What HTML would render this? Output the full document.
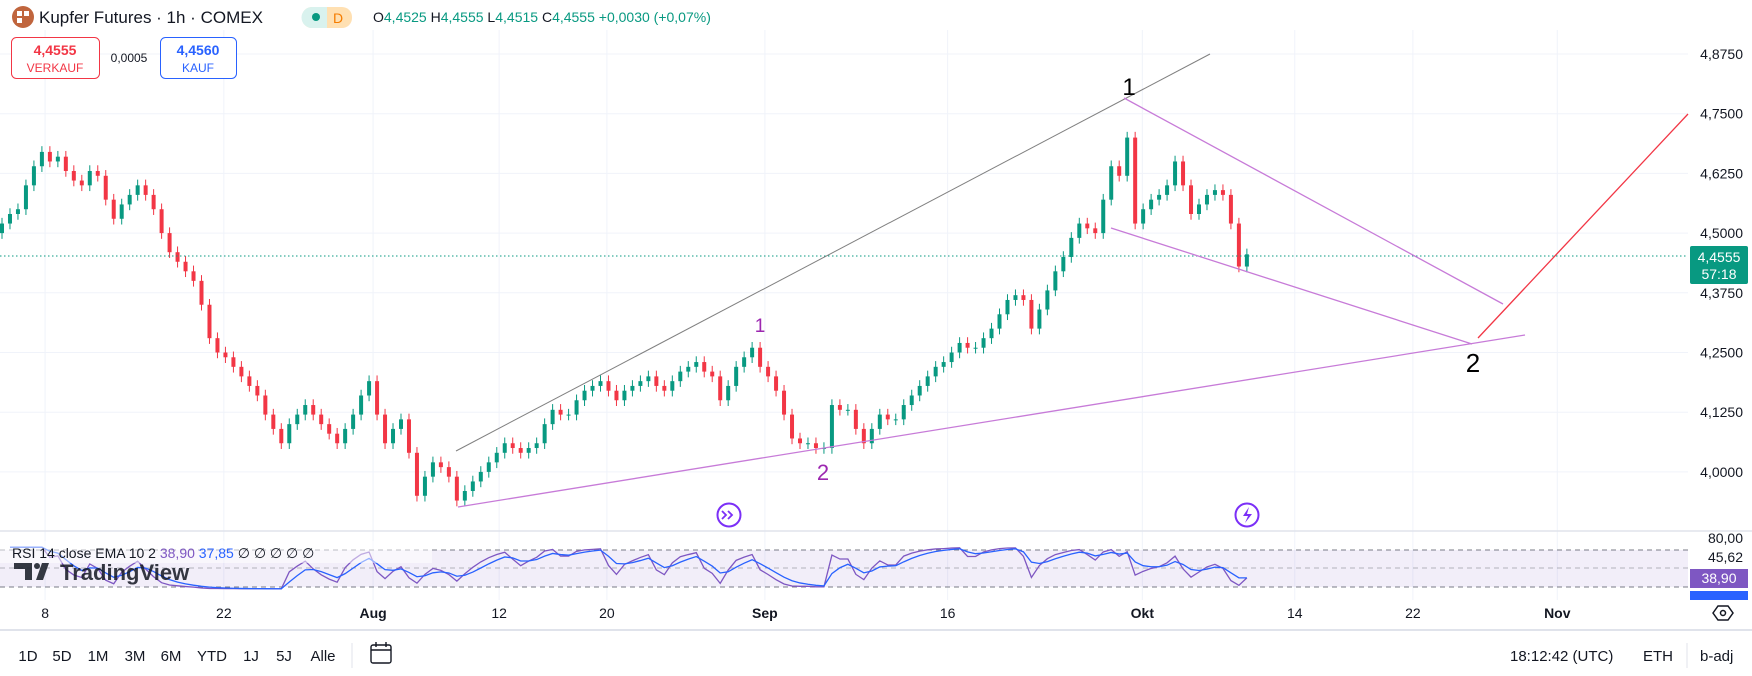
<!DOCTYPE html>
<html><head><meta charset="utf-8">
<style>
html,body{margin:0;padding:0;background:#fff;width:1752px;height:676px;overflow:hidden;font-family:"Liberation Sans","DejaVu Sans",sans-serif;}
svg{position:absolute;left:0;top:0}
text{font-family:"Liberation Sans","DejaVu Sans",sans-serif}
</style></head>
<body>
<svg id="chart" width="1752" height="676" viewBox="0 0 1752 676">
<g id="grid"></g>
<g id="candles"></g>
<line x1="0" y1="256" x2="1688" y2="256" stroke="#089981" stroke-width="1" stroke-dasharray="1.5 2.5"/>
<g>
<line x1="456" y1="451" x2="1210" y2="54" stroke="#808080" stroke-width="1"/>
<line x1="458" y1="507" x2="1525" y2="335" stroke="#c77bd8" stroke-width="1.3"/>
<line x1="1124" y1="98" x2="1503" y2="304" stroke="#c77bd8" stroke-width="1.3"/>
<line x1="1111" y1="228" x2="1472" y2="344" stroke="#c77bd8" stroke-width="1.3"/>
<line x1="1478" y1="338" x2="1688" y2="114" stroke="#f23645" stroke-width="1.3"/>
<text x="1129" y="95" font-size="24" fill="#000" text-anchor="middle">1</text>
<text x="1473" y="372" font-size="26" fill="#000" text-anchor="middle">2</text>
<text x="760" y="332" font-size="19" fill="#9c27b0" text-anchor="middle">1</text>
<text x="823" y="480" font-size="22" fill="#9c27b0" text-anchor="middle">2</text>
</g>
<g><circle cx="729" cy="515" r="11.5" fill="#fff" stroke="#7b2ff7" stroke-width="2"/><path d="M722 511 l4 4 -4 4 M728 511 l4 4 -4 4" stroke="#7b2ff7" stroke-width="1.8" fill="none"/></g>
<g><circle cx="1247" cy="515" r="11.5" fill="#fff" stroke="#7b2ff7" stroke-width="2"/><path d="M1249 507 l-6 9 h5 l-3 7 7-9 h-5z" fill="#7b2ff7"/></g>

<line x1="0" y1="531" x2="1752" y2="531" stroke="#e0e3eb" stroke-width="1.5"/>
<rect x="0" y="550" width="1688" height="37" fill="#7e57c2" fill-opacity="0.1"/>
<line x1="0" y1="550" x2="1688" y2="550" stroke="#787b86" stroke-dasharray="5 4"/>
<line x1="0" y1="568" x2="1688" y2="568" stroke="#9598a1" stroke-dasharray="5 4" stroke-opacity="0.7"/>
<line x1="0" y1="587" x2="1688" y2="587" stroke="#787b86" stroke-dasharray="5 4"/>
<g id="rsi"></g>
<rect x="0" y="541" width="432" height="22" fill="#fff" fill-opacity="0.5"/>
<text x="12" y="558" font-size="14" fill="#131722">RSI 14 close EMA 10 2 <tspan fill="#7e57c2">38,90</tspan> <tspan fill="#2962ff">37,85</tspan>  ∅  ∅  ∅  ∅  ∅</text>
<g>
<path d="M14 563 h18 v17 h-7 v-11 h-11z" fill="#131722" opacity="0.85"/><circle cx="37" cy="566" r="3" fill="#131722" opacity="0.85"/><path d="M36 580 l6-17 h7 l-6 17z" fill="#131722" opacity="0.85"/>
<text x="60" y="580" font-size="22" font-weight="bold" fill="#131722" opacity="0.85">TradingView</text></g>

<g id="paxis"></g>
<g><rect x="1690" y="246" width="58" height="38" rx="2" fill="#089981"/>
<text x="1719" y="262" font-size="14" fill="#fff" text-anchor="middle">4,4555</text><text x="1719" y="279" font-size="14" fill="#fff" text-anchor="middle">57:18</text></g>
<text x="1743" y="543" font-size="14" fill="#131722" text-anchor="end">80,00</text>
<text x="1743" y="562" font-size="14" fill="#131722" text-anchor="end">45,62</text>
<rect x="1690" y="569" width="58" height="19" fill="#7e57c2"/>
<text x="1719" y="583" font-size="14" fill="#fff" text-anchor="middle">38,90</text>
<rect x="1690" y="591" width="58" height="9" fill="#2962ff"/>

<g id="taxis"></g>
<g><path d="M1713 613 l5-7 h10 l5 7 -5 7 h-10z" fill="none" stroke="#131722" stroke-width="1.5"/><circle cx="1723" cy="613" r="2.5" fill="none" stroke="#131722" stroke-width="1.5"/></g>
<line x1="0" y1="630" x2="1752" y2="630" stroke="#e0e3eb" stroke-width="2"/>
<g font-size="15" fill="#131722" text-anchor="middle">
<text x="28" y="661">1D</text>
<text x="62" y="661">5D</text>
<text x="98" y="661">1M</text>
<text x="135" y="661">3M</text>
<text x="171" y="661">6M</text>
<text x="212" y="661">YTD</text>
<text x="251" y="661">1J</text>
<text x="284" y="661">5J</text>
<text x="323" y="661">Alle</text>
</g>
<line x1="352" y1="643" x2="352" y2="668" stroke="#e0e3eb"/>
<g><rect x="371" y="645" width="20" height="18" rx="2" fill="none" stroke="#131722" stroke-width="1.4"/><line x1="371" y1="650" x2="391" y2="650" stroke="#131722" stroke-width="1.4"/><line x1="376" y1="642" x2="376" y2="647" stroke="#131722" stroke-width="1.4"/><line x1="386" y1="642" x2="386" y2="647" stroke="#131722" stroke-width="1.4"/></g>
<text x="1510" y="661" font-size="15" fill="#131722">18:12:42 (UTC)</text>
<text x="1643" y="661" font-size="15" fill="#131722">ETH</text>
<line x1="1687" y1="643" x2="1687" y2="668" stroke="#e0e3eb"/>
<text x="1700" y="661" font-size="15" fill="#131722">b-adj</text>

<g>
<circle cx="23" cy="17" r="11" fill="#c0653d"/>
<rect x="17" y="11" width="5" height="5" fill="#fff"/><rect x="24" y="11" width="5" height="5" fill="#fff"/><rect x="17" y="18" width="5" height="5" fill="#fff"/>
<text x="39" y="23" font-size="17" fill="#131722">Kupfer Futures · 1h · COMEX</text>
<rect x="302" y="7" width="50" height="21" rx="10" fill="#ffe0b2"/><path d="M312 7 h15 v21 h-15 a10 10 0 0 1 0-21z" fill="#d9f2ee"/>
<circle cx="316" cy="17" r="4" fill="#089981"/><text x="338" y="23" font-size="14" fill="#f57c00" text-anchor="middle">D</text>
<text x="373" y="22" font-size="14" fill="#131722">O<tspan fill="#089981">4,4525</tspan> H<tspan fill="#089981">4,4555</tspan> L<tspan fill="#089981">4,4515</tspan> C<tspan fill="#089981">4,4555 +0,0030 (+0,07%)</tspan></text>
</g>
<g><rect x="11.5" y="37.5" width="88" height="41" rx="5" fill="#fff" stroke="#f23645"/>
<text x="55" y="55" font-size="14" font-weight="bold" fill="#f23645" text-anchor="middle">4,4555</text><text x="55" y="72" font-size="12" fill="#f23645" text-anchor="middle">VERKAUF</text></g>
<text x="129" y="62" font-size="12" fill="#131722" text-anchor="middle">0,0005</text>
<g><rect x="160.5" y="37.5" width="76" height="41" rx="5" fill="#fff" stroke="#2962ff"/>
<text x="198" y="55" font-size="14" font-weight="bold" fill="#2962ff" text-anchor="middle">4,4560</text><text x="198" y="72" font-size="12" fill="#2962ff" text-anchor="middle">KAUF</text></g>
</svg>
<script>
const closes=[4.52,4.54,4.55,4.60,4.64,4.67,4.65,4.66,4.63,4.61,4.60,4.63,4.62,4.57,4.53,4.56,4.58,4.60,4.58,4.55,
4.50,4.46,4.44,4.42,4.40,4.35,4.28,4.25,4.24,4.22,4.20,4.18,4.16,4.12,4.09,4.06,4.10,4.12,4.14,4.12,
4.10,4.08,4.06,4.09,4.12,4.16,4.19,4.12,4.06,4.09,4.11,4.04,3.95,3.99,4.02,4.01,3.99,3.94,3.96,3.98,
4.00,4.02,4.04,4.06,4.05,4.04,4.05,4.06,4.10,4.13,4.12,4.12,4.15,4.17,4.18,4.19,4.17,4.15,4.17,4.18,
4.19,4.20,4.18,4.17,4.19,4.21,4.22,4.23,4.21,4.20,4.15,4.18,4.22,4.24,4.26,4.22,4.20,4.17,4.12,4.07,
4.06,4.06,4.05,4.05,4.14,4.13,4.13,4.09,4.06,4.09,4.12,4.11,4.11,4.14,4.16,4.18,4.20,4.22,4.23,4.25,
4.27,4.26,4.26,4.28,4.30,4.33,4.36,4.37,4.36,4.30,4.34,4.38,4.42,4.45,4.49,4.52,4.51,4.50,4.57,4.64,
4.62,4.70,4.52,4.55,4.57,4.58,4.60,4.65,4.60,4.54,4.56,4.58,4.59,4.58,4.52,4.43,4.4555];
const firstOpen=4.50;
const priceTicks=[4.875,4.75,4.625,4.5,4.375,4.25,4.125,4.0];
const priceTickLabels=["4,8750","4,7500","4,6250","4,5000","4,3750","4,2500","4,1250","4,0000"];
const dateLabels=["8","22","Aug","12","20","Sep","16","Okt","14","22","Nov"];
const dateBold=[false,false,true,false,false,true,false,true,false,false,true];
const dateIdx=[5.4,27.8,46.5,62.3,75.8,95.6,118.5,142.9,162,176.8,194.9];

const NS="http://www.w3.org/2000/svg";
function el(t,a,p){const e=document.createElementNS(NS,t);for(const k in a)e.setAttribute(k,a[k]);p.appendChild(e);return e;}
const yP=p=>54+(4.875-p)*477.6;
const xI=i=>2+i*7.98;
const yR=r=>568-(r-50)*0.925;

const grid=document.getElementById('grid'),pax=document.getElementById('paxis'),tax=document.getElementById('taxis');
priceTicks.forEach((p,k)=>{
  const g=el('line',{x1:0,x2:1688,y1:yP(p),y2:yP(p),stroke:'#f0f3fa','stroke-width':1},grid);
  
  
  const t=el('text',{x:1743,y:yP(p)+5,'font-size':14,fill:'#131722','text-anchor':'end'},pax);
  t.textContent=priceTickLabels[k];
  
  
});
dateLabels.forEach((d,k)=>{
  const x=xI(dateIdx[k]);
  const g=el('line',{x1:x,x2:x,y1:30,y2:600,stroke:'#f0f3fa','stroke-width':1},grid);
  
  
  const t=el('text',{x:x,y:618,'font-size':14,fill:'#131722','text-anchor':'middle','font-weight':dateBold[k]?'bold':'normal'},tax);
  t.textContent=d;
  
  
});

const cg=document.getElementById('candles');
closes.forEach((c,i)=>{
  const o=i===0?firstOpen:closes[i-1];
  const hi=Math.max(o,c)+0.012, lo=Math.min(o,c)-0.012;
  const col=c>=o?'#089981':'#f23645';
  const x=xI(i);
  const w=el('line',{x1:x,x2:x,y1:yP(hi),y2:yP(lo),stroke:col,'stroke-width':1},cg);
  
  
  const top=yP(Math.max(o,c)),h=Math.max(1,yP(Math.min(o,c))-top);
  const b=el('rect',{x:x-2,y:top,width:4,height:h,fill:col},cg);
  
  
});

// RSI computed on the coarse close series (short period to reflect hourly swings), EMA of RSI
const N=3;
const rsi=[];let ag=0,al=0;
for(let i=1;i<closes.length;i++){
  const d=closes[i]-closes[i-1],g=Math.max(d,0),l=Math.max(-d,0);
  if(i<=N){ag+=g/N;al+=l/N;}else{ag=(ag*(N-1)+g)/N;al=(al*(N-1)+l)/N;}
  const raw=al===0?100:100-100/(1+ag/al);
  rsi.push({i:i,v:50+(raw-50)*0.45});
}
const ema=[];let e=rsi[0].v;const k=2/5;
rsi.forEach(r=>{e=r.v*k+e*(1-k);ema.push({i:r.i,v:e});});
const rg=document.getElementById('rsi');
const pr=el('polyline',{points:rsi.map(r=>xI(r.i)+','+yR(r.v)).join(' '),fill:'none',stroke:'#7e57c2','stroke-width':1.3},rg);


const pe=el('polyline',{points:ema.map(r=>xI(r.i)+','+yR(r.v)).join(' '),fill:'none',stroke:'#2962ff','stroke-width':1.3},rg);


</script>
</body></html>
